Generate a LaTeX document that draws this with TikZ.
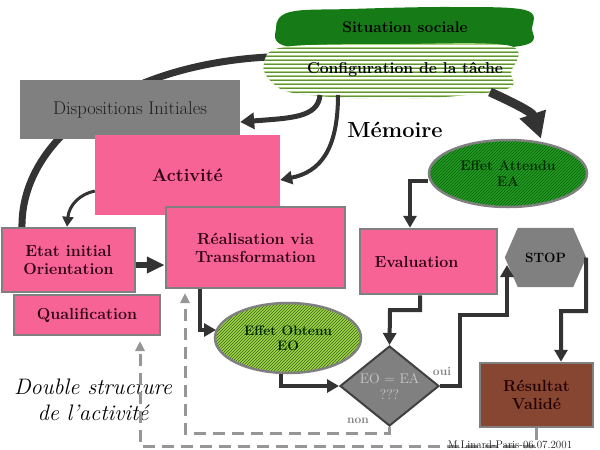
\documentclass[tikz,border=0pt]{standalone}
\usepackage{fontspec}
\usetikzlibrary{arrows.meta,shapes.geometric,patterns,backgrounds}
\definecolor{pinkbox}{RGB}{247,99,149}
\definecolor{bordergray}{RGB}{128,128,128}
\definecolor{dispgray}{RGB}{128,128,128}
\definecolor{conncol}{RGB}{51,51,51}
\definecolor{situgreen}{RGB}{22,122,22}
\definecolor{cfgreen}{RGB}{168,208,120}
\definecolor{cfdark}{RGB}{95,145,55}
\definecolor{eagreen}{RGB}{40,155,40}
\definecolor{eastripe}{RGB}{0,95,0}
\definecolor{eogreen}{RGB}{160,210,70}
\definecolor{eostripe}{RGB}{55,105,25}
\definecolor{resbrown}{RGB}{135,70,50}
\definecolor{darktxt}{RGB}{45,0,20}
\definecolor{eatxt}{RGB}{0,45,0}
\definecolor{diatxt}{RGB}{200,200,200}
\definecolor{dashgray}{RGB}{150,150,150}
\definecolor{diaborder}{RGB}{64,64,64}
\begin{document}
\begin{tikzpicture}[x=1pt,y=-1pt,
  txt/.style={font={\bfseries\fontsize{16}{18}\selectfont}, text=darktxt, align=center},
  pbox/.style={rectangle, fill=pinkbox, draw=bordergray, line width=2.5pt, inner sep=0pt, txt},
  conn/.style={draw=conncol, line width=4pt, -{Triangle[length=12pt,width=13pt]}},
  dashc/.style={draw=dashgray, line width=3pt, dash pattern=on 12pt off 7pt, -{Triangle[length=10pt,width=9pt]}},
  ell/.style={ellipse, draw=bordergray, line width=2.5pt, inner sep=0pt, font={\bfseries\fontsize{14}{15.5}\selectfont}, text=eatxt, align=center},
]
\useasboundingbox (0,0) rectangle (600,450);

% Situation sociale blob
\fill[situgreen] plot[smooth cycle, tension=0.6] coordinates {(276,28) (290,12) (350,9) (450,7) (525,10) (532,28) (520,46) (400,50) (290,47)};
% Configuration blob
\begin{scope}
\clip plot[smooth cycle, tension=0.6] coordinates {(264,64) (285,47) (400,44) (510,46) (511,72) (503,90) (400,99) (300,94) (272,82)};
\fill[cfgreen] (255,40) rectangle (520,105);
\foreach \yy in {46,50,...,102} {\draw[white,line width=1.5pt] (255,\yy)--(520,\yy); \draw[cfdark, line width=0.5pt] (255,\yy+1.9)--(520,\yy+1.9);}
\end{scope}
\node[txt, text=black, font={\bfseries\fontsize{15.5}{17}\selectfont}] (situ) at (405,27) {Situation sociale};
\node[txt, text=black, font={\bfseries\fontsize{15.7}{17}\selectfont}] (config) at (405,69) {Configuration de la tâche};
\coordinate (cfL) at (268,57);
\coordinate (cfB1) at (320,95);
\coordinate (cfB2) at (338,95);
\coordinate (cfR) at (490,92);

% boxes
\node[rectangle, fill=dispgray, inner sep=0pt, minimum width=220pt, minimum height=59pt, font={\fontsize{18.5}{20}\selectfont}, text={rgb,255:red,30;green,30;blue,30}] (disp) at (130,109.5) {Dispositions Initiales};
\node[rectangle, fill=pinkbox, inner sep=0pt, minimum width=185pt, minimum height=80pt, txt, font={\bfseries\fontsize{18}{20}\selectfont}] (act) at (187.5,175) {Activité};
\node[pbox, minimum width=179pt, minimum height=81pt] (real) at (255.5,247.5) {Réalisation via\\Transformation};
\node[pbox, minimum width=133pt, minimum height=64pt] (etat) at (68.5,260) {Etat initial\\Orientation};
\node[pbox, minimum width=146pt, minimum height=40pt] (qual) at (87,315) {Qualification};
\node[pbox, minimum width=137pt, minimum height=65pt, text width=120pt, align=left] (eval) at (428.5,261.5) {\hspace*{6pt}Evaluation};
\node[rectangle, fill=resbrown, draw=bordergray, line width=2.5pt, inner sep=0pt, minimum width=113pt, minimum height=64pt, txt, text={rgb,255:red,35;green,0;blue,0}] (res) at (536.5,395) {Résultat\\Validé};
\node[rectangle, inner sep=0pt, minimum width=81pt, minimum height=59pt, font={\bfseries\fontsize{13.5}{15}\selectfont}, text=black] (stop) at (545.5,257.5) {STOP};

% ellipses
\node[ell, preaction={fill=eagreen}, pattern=north east lines, pattern color=eastripe, minimum width=158pt, minimum height=67pt] (ea) at (508,173.5) {Effet Attendu\\EA};
\node[ell, preaction={fill=eogreen}, pattern=north east lines, pattern color=eostripe, minimum width=146pt, minimum height=70pt, font={\bfseries\fontsize{13.8}{15.5}\selectfont}] (eo) at (288,338) {Effet Obtenu\\EO};

% diamond
\node[diamond, aspect=1.24, fill=dispgray, draw=diaborder, line width=2pt, inner sep=0pt, minimum width=99pt, minimum height=80pt, font={\fontsize{14}{16}\selectfont}, text=diatxt, align=center] (dia) at (389.5,386) {EO = EA\\???};

% labels
\node[font={\bfseries\fontsize{21.8}{24}\selectfont}, text=black] (mem) at (395,130) {Mémoire};
\node[font={\itshape\fontsize{22.4}{26}\selectfont}, text=black, align=center] (dbl) at (93,400) {Double structure\\de l'activité};
\node[font={\bfseries\fontsize{12}{14}\selectfont}, text=bordergray] (oui) at (442,371) {oui};
\node[font={\bfseries\fontsize{12}{14}\selectfont}, text=bordergray] (non) at (358,421) {non};

% background: big arc and hexagon
\begin{scope}[on background layer]
\draw[conncol, line width=7pt] (cfL) .. controls (120,65) and (20,140) .. (22,228.5);
\fill[dispgray] (stop.west) -- ([xshift=13pt]stop.north west) -- ([xshift=-13pt]stop.north east) -- (stop.east) -- ([xshift=-13pt]stop.south east) -- ([xshift=13pt]stop.south west) -- cycle;
\end{scope}

% connectors
\draw[conn, line width=5pt, -{Triangle[length=14pt,width=16pt]}] (cfB1) .. controls (318,118) and (290,118) .. (disp.east |- 0,122);
\draw[conn] (cfB2) .. controls (338,150) and (320,172) .. (act.east |- 0,180);
\draw[conn, line width=9pt, -{Triangle[length=26pt,width=26pt]}] (cfR) .. controls (512,102) and (532,112) .. (ea.north -| 541,0);
\draw[conn, line width=3pt, -{Triangle[length=10pt,width=11pt]}] (act.west |- 0,191) .. controls (80,194) and (69,205) .. (etat.north -| 67,0);
\draw[conn, line width=5.5pt, -{Triangle[length=18pt,width=16pt]}] ([yshift=-5pt]etat.east) -- ([yshift=-5pt]etat.east -| real.west);
\draw[conn] (real.south -| 200,0) -- (200,330) -- (216,330);
\draw[conn] (eo.south -| 281,0) -- (281,386) -- (dia.west);
\draw[conn] (ea.west |- 0,181) -- (410,181) -- (eval.north -| 410,0);
\draw[conn] (eval.south -| 420,0) -- (420,310) -- (390,310) -- (dia.north);
\draw[conn] (dia.east) -- (460,386) -- (460,315) -- (507,315) -- (507,265);
\draw[conn] (stop.east) -- (586,311) -- (561,311) -- (res.north -| 561,0);

% dashed feedback
\draw[dashc] (dia.south) -- (389.5,433) -- (185,433) -- (185,293);
\draw[dashc] (res.south) -- (536.5,446) -- (140,446) -- (140,341);

\node[font={\fontsize{11}{13}\selectfont}, text={rgb,255:red,30;green,30;blue,30}] (copy) at (510,445) {M.Linard-Paris-06.07.2001};
\end{tikzpicture}
\end{document}
